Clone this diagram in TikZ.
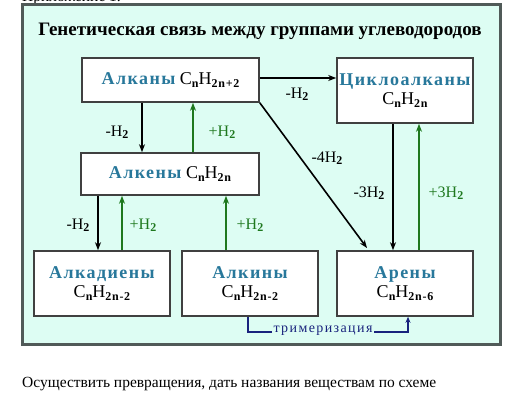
\documentclass[tikz,border=0pt]{standalone}
\usepackage{fontspec}
\setmainfont{Liberation Serif}
\newfontfamily\spc[LetterSpace=8]{Liberation Serif}
\newfontfamily\spt[LetterSpace=10]{Liberation Serif}
\newfontfamily\spf[LetterSpace=6]{Liberation Serif}
\usetikzlibrary{arrows.meta}
\definecolor{bgc}{RGB}{221,253,243}
\definecolor{namec}{RGB}{40,120,155}
\definecolor{grn}{RGB}{30,120,30}
\definecolor{dblue}{RGB}{25,35,125}
\definecolor{frmc}{RGB}{80,90,88}
\newcommand\sbs[1]{\raisebox{-0.3ex}{\fontsize{12}{12}\selectfont\bfseries\spf #1}}
\newcommand\chem[1]{{\spf C\sbs{n}H\sbs{#1}}}
\newcommand\nm[1]{{\spc\bfseries\color{namec}#1}}
\begin{document}
\begin{tikzpicture}[x=1pt,y=-1pt,
  box/.style={draw=black!75, line width=1.6pt, fill=white, inner sep=0pt, align=center,
    font=\fontsize{18}{19}\selectfont},
  lbl/.style={font=\fontsize{16}{18}\selectfont, inner sep=1pt},
  blk/.style={draw=black, line width=1.6pt, -{Stealth[length=8pt,width=6pt]}},
  gar/.style={draw=grn, line width=1.6pt, -{Stealth[length=8pt,width=6pt]}},
  tri/.style={draw=dblue, line width=1.6pt, -{Stealth[length=6pt,width=5pt]}}
]
\useasboundingbox (0,0) rectangle (531,401);
\fill[white] (0,0) rectangle (531,401);
\node[anchor=base west, font=\fontsize{15.5}{17}\selectfont, inner sep=0pt] (app) at (22,1.5) {Приложение 1.};
\draw[draw=frmc, line width=3pt, fill=bgc] (22,5) rectangle (500,345);
\node[font=\fontsize{19}{22}\selectfont\bfseries] (title) at (260,31) {Генетическая связь между группами углеводородов};

\node[box, minimum width=177pt, minimum height=44pt] (alkanes) at (170.5,80) {\nm{Алканы} \chem{2n+2}};
\node[box, minimum width=136pt, minimum height=65pt] (cyclo) at (405,90.5) {\nm{Циклоалканы}\\\chem{2n}};
\node[box, minimum width=178pt, minimum height=42pt] (alkenes) at (170,174) {\nm{Алкены} \chem{2n}};
\node[box, minimum width=136pt, minimum height=65pt] (dienes) at (102,283.5) {\nm{Алкадиены}\\\chem{2n-2}};
\node[box, minimum width=136pt, minimum height=65pt] (alkynes) at (250,283.5) {\nm{Алкины}\\\chem{2n-2}};
\node[box, minimum width=136pt, minimum height=65pt] (arenes) at (405,283.5) {\nm{Арены}\\\chem{2n-6}};

% alkanes <-> alkenes
\draw[blk] (alkanes.south -| 142,0) -- (alkenes.north -| 142,0);
\draw[gar] (alkenes.north -| 193,0) -- (alkanes.south -| 193,0);
\node[lbl] (l1) at (117,132) {-H\sbs{2}};
\node[lbl, text=grn] (l2) at (222,132) {+H\sbs{2}};
% alkanes -> cyclo
\draw[blk] (alkanes.east |- 0,78) -- (cyclo.west |- 0,78);
\node[lbl] (l3) at (297,94) {-H\sbs{2}};
% alkanes -> arenes
\draw[blk] (alkanes.south east) -- (367,248);
\node[lbl] (l4) at (327,158) {-4H\sbs{2}};
% cyclo <-> arenes
\draw[blk] (cyclo.south -| 393,0) -- (arenes.north -| 393,0);
\draw[gar] (arenes.north -| 419,0) -- (cyclo.south -| 419,0);
\node[lbl] (l5) at (369,193) {-3H\sbs{2}};
\node[lbl, text=grn] (l6) at (446,193) {+3H\sbs{2}};
% alkenes <-> dienes, alkynes
\draw[blk] (alkenes.south -| 98,0) -- (dienes.north -| 98,0);
\draw[gar] (dienes.north -| 122,0) -- (alkenes.south -| 122,0);
\draw[gar] (alkynes.north -| 226,0) -- (alkenes.south -| 226,0);
\node[lbl] (l7) at (78,225) {-H\sbs{2}};
\node[lbl, text=grn] (l8) at (143,225) {+H\sbs{2}};
\node[lbl, text=grn] (l9) at (250,225) {+H\sbs{2}};
% trimerization
\coordinate (t1) at (248,332);
\coordinate (t2) at (408,332);
\draw[tri] (alkynes.south -| t1) -- (t1) -- (t2) -- (arenes.south -| t2);
\node[fill=bgc, inner sep=2pt, text=dblue, font=\fontsize{14}{15}\selectfont\spt] (trim) at (323,331) {тримеризация};

\node[anchor=base west, font=\fontsize{15.5}{17}\selectfont, inner sep=0pt] (task) at (22,388) {Осуществить превращения, дать названия веществам по схеме};
\end{tikzpicture}
\end{document}
